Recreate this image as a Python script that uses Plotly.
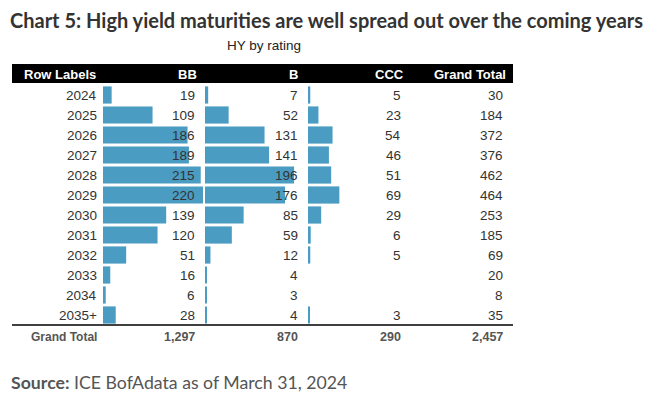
import plotly.graph_objects as go

# ---------------- data ----------------
years = ["2024", "2025", "2026", "2027", "2028", "2029", "2030", "2031", "2032", "2033", "2034", "2035+"]
bb = [19, 109, 186, 189, 215, 220, 139, 120, 51, 16, 6, 28]
b = [7, 52, 131, 141, 196, 176, 85, 59, 12, 4, 3, 4]
ccc = [5, 23, 54, 46, 51, 69, 29, 6, 5, None, None, 3]
totals = [30, 184, 372, 376, 462, 464, 253, 185, 69, 20, 8, 35]
grand = {"BB": "1,297", "B": "870", "CCC": "290", "Grand Total": "2,457"}
headers = ["Row Labels", "BB", "B", "CCC", "Grand Total"]

title = "Chart 5: High yield maturities are well spread out over the coming years"
subtitle = "HY by rating"

# ---------------- layout helpers ----------------
W, H = 655, 397
def px(x):
    return x / W
def py(y):
    return 1 - y / H

BAR = "#4A9CC2"
TXT = "#333333"
FONT = "Liberation Sans, Arial, sans-serif"
scale_max = max(bb)  # Excel data bars share one scale

fig = go.Figure()
cols = [("x", bb, (103, 203)), ("x2", b, (205, 305)), ("x3", ccc, (308, 408))]
for ax, vals, _ in cols:
    fig.add_trace(go.Bar(
        x=vals, y=list(range(len(years))), orientation="h", xaxis=ax, yaxis="y",
        marker=dict(color=BAR, line=dict(width=0)), width=0.86,
        hoverinfo="skip", showlegend=False))

axcommon = dict(range=[0, scale_max], visible=False, fixedrange=True)
layout = dict(
    width=W, height=H, margin=dict(l=0, r=0, t=0, b=0),
    paper_bgcolor="white", plot_bgcolor="rgba(0,0,0,0)",
    yaxis=dict(domain=[py(325), py(85)], range=[len(years) - 0.5, -0.5],
               visible=False, anchor="x", fixedrange=True),
    showlegend=False,
)
for ax, vals, (x0, x1) in cols:
    key = "xaxis" if ax == "x" else "xaxis" + ax[1:]
    layout[key] = dict(domain=[px(x0), px(x1)], anchor="y", **axcommon)
fig.update_layout(**layout)

ann = []
# title, subtitle, source
ann.append(dict(text="<b>" + title + "</b>", x=px(8), y=py(20), xref="paper", yref="paper",
                xanchor="left", yanchor="middle", showarrow=False,
                font=dict(family="Lato, sans-serif", size=20, color="#333333")))
ann.append(dict(text=subtitle, x=px(264), y=py(45), xref="paper", yref="paper",
                xanchor="center", yanchor="middle", showarrow=False,
                font=dict(family=FONT, size=13.5, color="#222222")))
ann.append(dict(text="<b>Source:</b> ICE BofAdata as of March 31, 2024", x=px(9), y=py(382),
                xref="paper", yref="paper", xanchor="left", yanchor="middle", showarrow=False,
                font=dict(family="Lato, sans-serif", size=17.7, color="#555555")))

# header bar and total rule
shapes = [dict(type="rect", xref="paper", yref="paper", x0=px(12), x1=px(513), y0=py(83), y1=py(64),
               fillcolor="black", line=dict(width=0), layer="below"),
          dict(type="line", xref="paper", yref="paper", x0=px(12), x1=px(513), y0=py(325), y1=py(325),
               line=dict(color="black", width=1.5))]
hdr_x = [(22, "left"), (199, "right"), (300, "right"), (406, "right"), (508, "right")]
for h, (hx, anc) in zip(headers, hdr_x):
    ann.append(dict(text="<b>" + h + "</b>", x=px(hx), y=py(74), xref="paper", yref="paper",
                    xanchor=anc, yanchor="middle", showarrow=False,
                    font=dict(family=FONT, size=13, color="white")))

# row labels and values
val_x = [197, 300, 403, 505]
for i, yr in enumerate(years):
    ann.append(dict(text=yr, x=px(99), y=i, xref="paper", yref="y", xanchor="right",
                    yanchor="middle", showarrow=False, font=dict(family=FONT, size=13.5, color=TXT)))
    for series, vx in zip([bb, b, ccc, totals], val_x):
        v = series[i]
        if v is None:
            continue
        ann.append(dict(text=str(v), x=px(vx), y=i, xref="paper", yref="y", xanchor="right",
                        yanchor="middle", showarrow=False, font=dict(family=FONT, size=13.5, color=TXT)))

# grand total row
ann.append(dict(text="<b>Grand Total</b>", x=px(99), y=py(337), xref="paper", yref="paper",
                xanchor="right", yanchor="middle", showarrow=False,
                font=dict(family=FONT, size=12, color="#555555")))
for key, vx in zip(["BB", "B", "CCC", "Grand Total"], val_x):
    ann.append(dict(text="<b>" + grand[key] + "</b>", x=px(vx), y=py(337), xref="paper", yref="paper",
                    xanchor="right", yanchor="middle", showarrow=False,
                    font=dict(family=FONT, size=12.5, color="#555555")))

fig.update_layout(annotations=ann, shapes=shapes)
fig.write_html("out.html", config={"displayModeBar": False},
               post_script="document.body.style.margin='0';")
